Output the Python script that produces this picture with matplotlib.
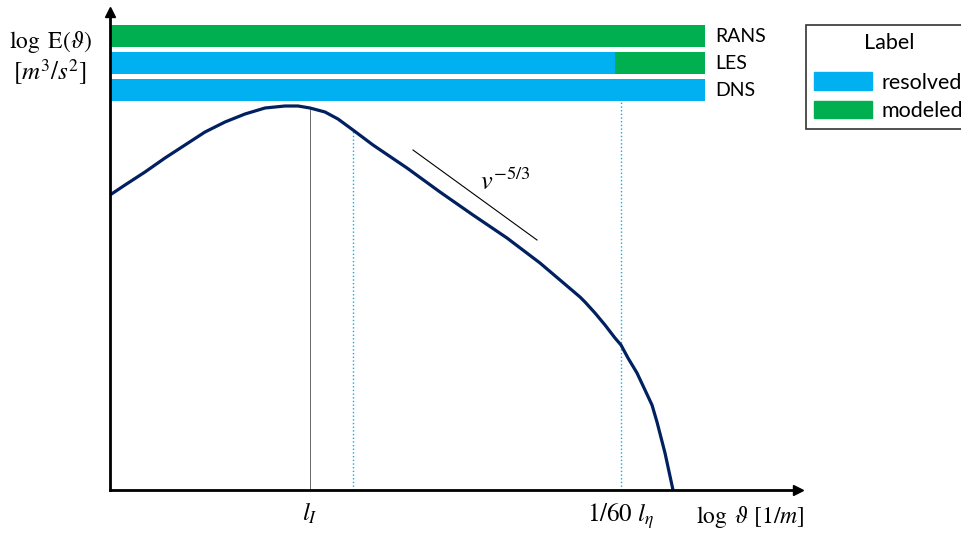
import matplotlib.pyplot as plt
from matplotlib.patches import Patch

plt.rcParams['mathtext.fontset'] = 'stix'
plt.rcParams['font.family'] = ['Lato', 'DejaVu Sans']

# spectrum curve (schematic; x = log wavenumber, y = log E)
curve_x = [0, 15, 35, 55, 75, 95, 115, 135, 155, 175, 188, 200, 215, 228, 243,
           263, 297, 330, 363, 397, 430, 450, 470, 475, 485, 495, 505, 511, 518,
           527, 535, 542, 547, 555, 563]
curve_y = [295, 305, 318, 332, 345, 358, 368, 376, 382, 384, 384, 382, 378, 371, 360,
           345, 322, 298, 275, 252, 227, 210, 193, 188, 177, 165, 152, 145, 132,
           117, 100, 85, 68, 37, 0]

# resolved / modeled extent of each method
methods = ['RANS', 'LES', 'DNS']
method_y = [454, 427, 400]
resolved_end = [0, 505, 595]
modeled_end = [595, 595, 595]

# marked wavenumbers
x_li = 200
x_les = 243
x_eta = 511
tick_pos = [x_li, x_eta]
tick_labels = [r'$l_I$', r'$1/60\ l_\eta$']

# -5/3 slope guide
slope_x = [303, 427]
slope_y = [340, 250]

green = '#00B050'
blue = '#00B0F0'
navy = '#002060'

fig = plt.figure(figsize=(9.61, 5.33), dpi=100)
ax = fig.add_axes([110 / 961, 43 / 533, 688 / 961, 478 / 533])
ax.set_xlim(0, 688)
ax.set_ylim(0, 478)

for spine in ['top', 'right']:
    ax.spines[spine].set_visible(False)
ax.spines['left'].set_linewidth(2)
ax.spines['bottom'].set_linewidth(2)
ax.plot(1, 0, '>k', markersize=7, transform=ax.transAxes, clip_on=False)
ax.plot(0, 1, '^k', markersize=7, transform=ax.transAxes, clip_on=False)

ax.set_yticks([])
ax.set_xticks(tick_pos)
ax.set_xticklabels(tick_labels, fontsize=18)
ax.tick_params(axis='x', length=0, pad=8)

# bars
ax.barh(method_y, resolved_end, height=22, color=blue, align='center')
modeled_start = resolved_end
ax.barh(method_y, [m - r for m, r in zip(modeled_end, modeled_start)], left=modeled_start,
        height=22, color=green, align='center')
for name, y, end in zip(methods, method_y, modeled_end):
    ax.text(end + 10, y, name, fontsize=14, va='center', ha='left')

# guide lines
ax.plot([x_li, x_li], [0, 382], color='#505050', lw=0.6)
ax.plot([x_les, x_les], [0, 360], color=blue, lw=1, ls=':')
ax.plot([x_eta, x_eta], [0, 389], color=blue, lw=1, ls=':')

# spectrum
ax.plot(curve_x, curve_y, color=navy, lw=2.3, clip_on=False,
        solid_joinstyle='round', solid_capstyle='butt')

ax.plot(slope_x, slope_y, color='black', lw=0.8)
ax.text(395, 308, r'$v^{-5/3}$', fontsize=19, ha='center', va='center')

ax.text(-60, 448, r'$\log\ \mathrm{E}(\vartheta)$', fontsize=17, ha='center', va='center')
ax.text(-60, 418, r'$[m^3/s^2]$', fontsize=18, ha='center', va='center')
ax.text(586, -27, r'$\log\ \vartheta\ [1/m]$', fontsize=17, ha='left', va='center')

handles = [Patch(color=blue, label='resolved'), Patch(color=green, label='modeled')]
leg = fig.legend(handles=handles, title='Label', loc='upper left',
                 bbox_to_anchor=(806 / 961, 1 - 25 / 533), fontsize=15.5, title_fontsize=15.5,
                 handlelength=2.7, handleheight=0.88, labelspacing=0.37, handletextpad=0.46,
                 borderpad=0.37, borderaxespad=0, fancybox=False, edgecolor='black')
leg.get_frame().set_linewidth(1.2)
leg._legend_box.sep = 14

plt.savefig('out.png', dpi=100)
